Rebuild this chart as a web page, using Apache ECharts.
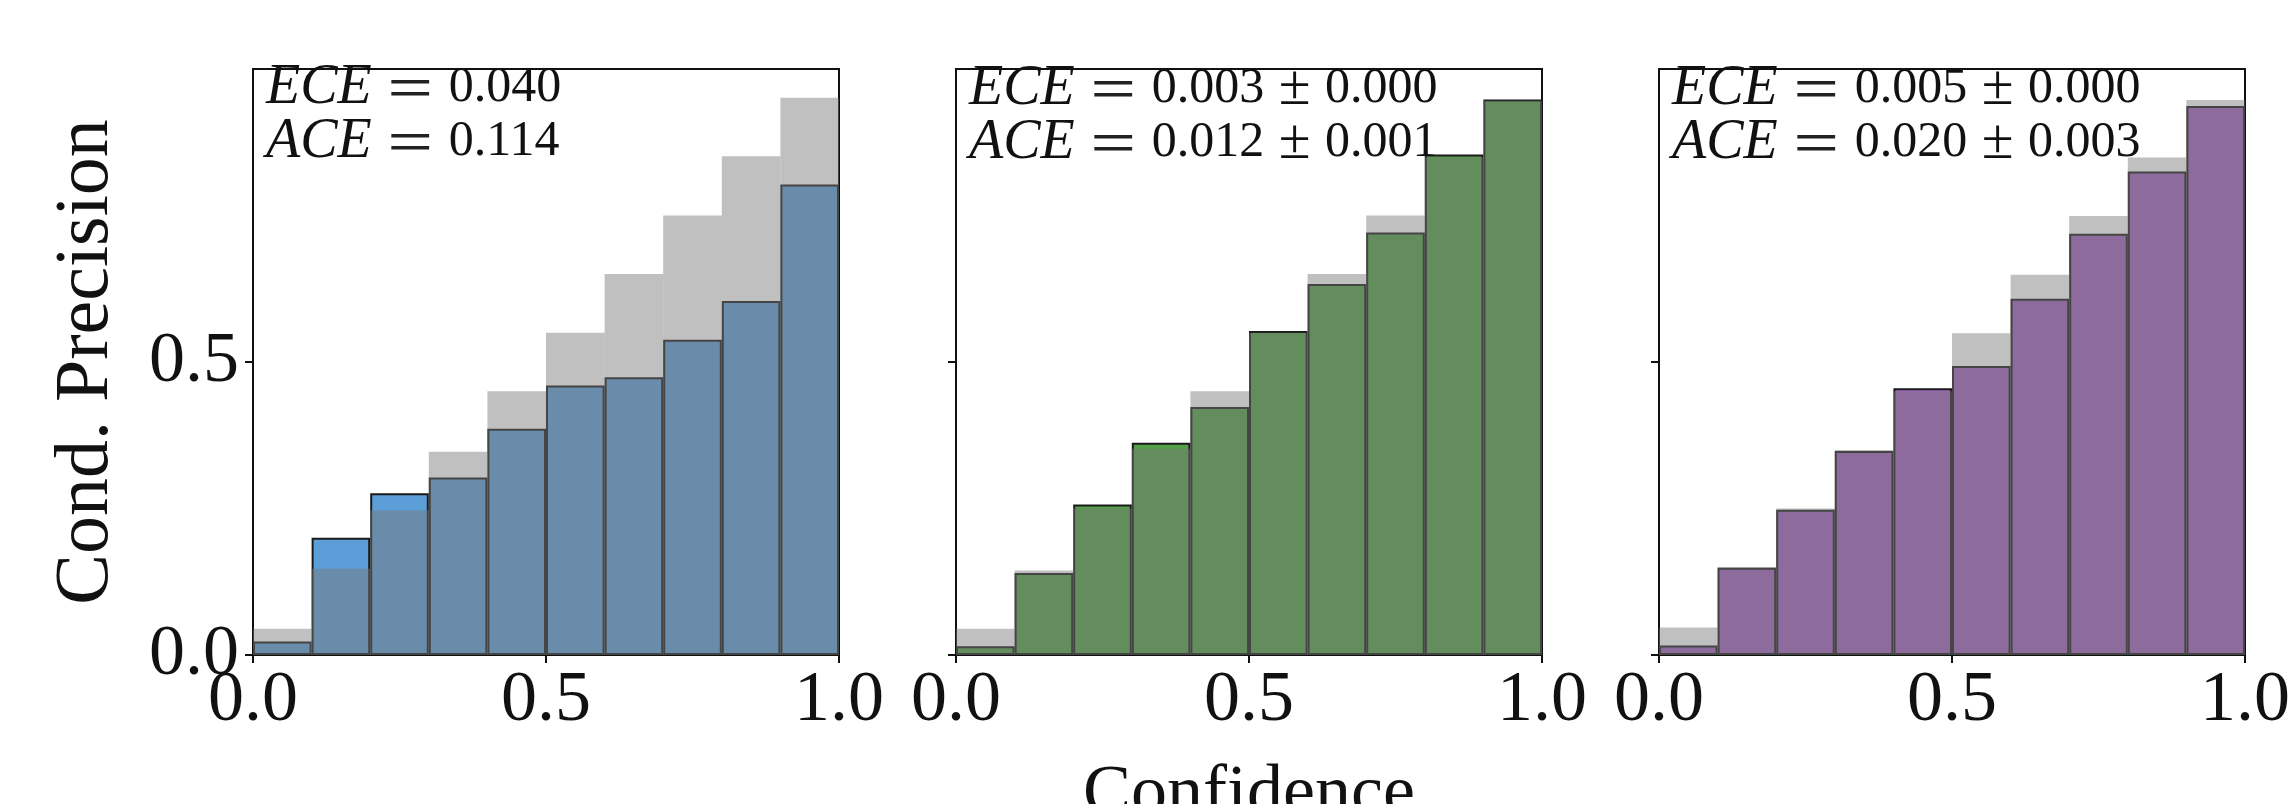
<!DOCTYPE html>
<html>
<head>
<meta charset="utf-8">
<script src="https://cdn.jsdelivr.net/npm/echarts@6/dist/echarts.min.js"></script>
<style>
	html, body { margin: 0; padding: 0; background: #fff; }
	#chart { width: 2292px; height: 804px; }
</style>
</head>
<body>
<div id="chart"></div>
<script>
const bins = ['0.0', '0.1', '0.2', '0.3', '0.4', '0.5', '0.6', '0.7', '0.8', '0.9'];
const xTicks = [0, 0.5, 1.0];
const yTicks = [0, 0.5];

// gray = reference bars, prec = model conditional precision per bin
const gray1 = [0.045, 0.147, 0.247, 0.347, 0.45, 0.55, 0.65, 0.75, 0.851, 0.951];
const prec1 = [0.023, 0.200, 0.276, 0.303, 0.386, 0.46, 0.474, 0.538, 0.604, 0.803];
const gray2 = [0.045, 0.144, 0.250, 0.352, 0.45, 0.55, 0.65, 0.75, 0.850, 0.946];
const prec2 = [0.015, 0.140, 0.257, 0.362, 0.423, 0.553, 0.633, 0.721, 0.854, 0.948];
const gray3 = [0.047, 0.150, 0.250, 0.350, 0.45, 0.549, 0.649, 0.749, 0.849, 0.947];
const prec3 = [0.016, 0.149, 0.248, 0.348, 0.455, 0.493, 0.608, 0.719, 0.825, 0.937];

const eceText = ['0.040', '0.003 \u00b1 0.000', '0.005 \u00b1 0.000'];
const aceText = ['0.114', '0.012 \u00b1 0.001', '0.020 \u00b1 0.003'];

const FONT = 'Liberation Serif';
const grids = [253, 956, 1659];
const colors = ['rgb(92,158,215)', 'rgb(84,160,72)', 'rgb(160,100,190)'];
const grays = [gray1, gray2, gray3];
const precs = [prec1, prec2, prec3];

// wrap a metric line in rich-text segments (math-like = and ±)
function metricLine(label, value) {
	const num = '{n|' + value.replace(' \u00b1 ', '}{pm| \u00b1 }{n|') + '}';
	return '{i|' + label + '}{n| }{eq|\uff1d}{n| }' + num;
}

const option = {
	animation: false,
	backgroundColor: '#fff',
	grid: [],
	xAxis: [],
	yAxis: [],
	series: [],
	graphic: []
};

grids.forEach((left, i) => {
	option.grid.push({
		left: left, top: 69, width: 586, height: 586,
		outerBoundsMode: 'none', containLabel: false,
		show: true, borderColor: '#111', borderWidth: 2, backgroundColor: 'transparent'
	});
	// category axis carrying the bins
	option.xAxis.push({
		type: 'category', gridIndex: i, data: bins, show: false, boundaryGap: true
	});
	// visible confidence axis
	option.xAxis.push({
		type: 'value', gridIndex: i, min: 0, max: 1, interval: 0.5, position: 'bottom',
		name: i === 1 ? 'Confidence' : '',
		nameLocation: 'middle', nameGap: 104,
		nameTextStyle: { fontFamily: FONT, fontSize: 72, color: '#111' },
		axisLine: { show: true, lineStyle: { color: '#111', width: 2 } },
		axisTick: { show: true, length: 8, lineStyle: { color: '#111', width: 2 }, customValues: xTicks },
		axisLabel: {
			fontFamily: FONT, fontSize: 72, color: '#111', margin: 10,
			customValues: xTicks, formatter: v => v.toFixed(1)
		},
		splitLine: { show: false }
	});
	option.yAxis.push({
		type: 'value', gridIndex: i, min: 0, max: 1, interval: 0.5,
		name: i === 0 ? 'Cond. Precision' : '',
		nameLocation: 'middle', nameGap: 128,
		nameTextStyle: { fontFamily: FONT, fontSize: 76, color: '#111' },
		axisLine: { show: true, lineStyle: { color: '#111', width: 2 } },
		axisTick: { show: true, length: 8, lineStyle: { color: '#111', width: 2 }, customValues: yTicks },
		axisLabel: {
			show: i === 0, fontFamily: FONT, fontSize: 72, color: '#111', margin: 14,
			customValues: yTicks, formatter: v => v.toFixed(1)
		},
		splitLine: { show: false }
	});
	option.series.push({
		type: 'bar', xAxisIndex: i * 2, yAxisIndex: i, data: precs[i],
		barWidth: '100%', barGap: '-100%',
		itemStyle: { color: colors[i], borderColor: '#1a1a1a', borderWidth: 2 }
	});
	option.series.push({
		type: 'bar', xAxisIndex: i * 2, yAxisIndex: i, data: grays[i],
		barWidth: '100%', barGap: '-100%',
		itemStyle: { color: 'rgba(119,119,119,0.463)', borderWidth: 0 }
	});
	option.graphic.push({
		type: 'text', left: left + 13, top: 60, z: 10,
		style: {
			text: metricLine('ECE', eceText[i]) + '\n' + metricLine('ACE', aceText[i]),
			font: '50px "Liberation Serif"', lineHeight: 54, fill: '#111',
			rich: {
				i: { font: 'italic 56px "Liberation Serif"', lineHeight: 54, fill: '#111' },
				eq: { font: '52px "Noto Sans CJK JP"', lineHeight: 54, fill: '#222' },
				pm: { font: '58px "Liberation Serif"', lineHeight: 54, fill: '#111' },
				n: { font: '50px "Liberation Serif"', lineHeight: 54, fill: '#111' }
			}
		}
	});
});

const chart = echarts.init(document.getElementById('chart'));
chart.setOption(option);
</script>
</body>
</html>
